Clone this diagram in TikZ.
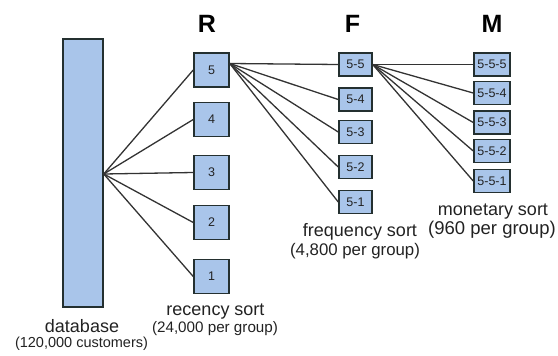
\documentclass[tikz,border=0pt]{standalone}
\usepackage{fontspec}
\setmainfont{Liberation Sans}
\definecolor{boxfill}{HTML}{A9C5EA}
\definecolor{boxline}{HTML}{243030}
\definecolor{wire}{HTML}{333333}
\definecolor{txt}{HTML}{222222}
\begin{document}
\begin{tikzpicture}[x=1pt,y=-1pt,
  box/.style={draw=boxline,fill=boxfill,line width=1.5pt,inner sep=0pt,text=txt,font=\fontsize{12.5}{12.5}\selectfont},
  rbox/.style={box,minimum width=35pt,minimum height=34pt},
  fbox/.style={box,minimum width=33pt,minimum height=23pt},
  mbox/.style={box,minimum width=36pt,minimum height=23pt},
  wire/.style={draw=wire,line width=1.3pt},
  head/.style={anchor=base,text=black,font=\fontsize{25}{25}\selectfont\bfseries},
  lbl/.style={anchor=base,text=txt,inner sep=0pt}]
\useasboundingbox (0,0) rectangle (558,356);
% database
\node[box,minimum width=40pt,minimum height=268pt] (db) at (83,173) {};
% R column
\node[rbox] (r5) at (211.5,70) {5};
\node[rbox] (r4) at (211.5,119.5) {4};
\node[rbox] (r3) at (211.5,172.5) {3};
\node[rbox] (r2) at (211.5,222.5) {2};
\node[rbox] (r1) at (211.5,276.5) {1};
% F column
\node[fbox] (f5) at (355.5,64.5) {5-5};
\node[fbox] (f4) at (355.5,99.5) {5-4};
\node[fbox] (f3) at (355.5,132) {5-3};
\node[fbox] (f2) at (355.5,167) {5-2};
\node[fbox] (f1) at (355.5,202) {5-1};
% M column
\node[mbox] (m5) at (492,64.5) {5-5-5};
\node[mbox] (m4) at (492,93) {5-5-4};
\node[mbox] (m3) at (492,122.5) {5-5-3};
\node[mbox] (m2) at (492,151) {5-5-2};
\node[mbox] (m1) at (492,181) {5-5-1};
% connectors
\coordinate (dbo) at ([yshift=-1pt]db.east);
\coordinate (r5o) at ([yshift=6.5pt]r5.east);
\coordinate (f5o) at (f5.east);
\foreach \i in {1,...,5} {
  \draw[wire] (dbo) -- (r\i.west);
  \draw[wire] (r5o) -- (f\i.west);
  \draw[wire] (f5o) -- (m\i.west);
}
% headers
\node[head] (hr) at (207,32) {R};
\node[head] (hf) at (352.5,32) {F};
\node[head] (hm) at (492,32) {M};
% labels
\node[lbl,font=\fontsize{18}{18}\selectfont] (ldb) at (82,332) {database};
\node[lbl,font=\fontsize{14.5}{14.5}\selectfont] (ldb2) at (81.5,347) {(120,000 customers)};
\node[lbl,font=\fontsize{18}{18}\selectfont] (lr) at (215.5,315) {recency sort};
\node[lbl,font=\fontsize{15.2}{15.2}\selectfont] (lr2) at (215,332) {(24,000 per group)};
\node[lbl,font=\fontsize{18}{18}\selectfont] (lf) at (360,236) {frequency sort};
\node[lbl,font=\fontsize{16.8}{16.8}\selectfont] (lf2) at (355,255) {(4,800 per group)};
\node[lbl,font=\fontsize{18}{18}\selectfont] (lm) at (493,215) {monetary sort};
\node[lbl,font=\fontsize{18.5}{18.5}\selectfont] (lm2) at (492,234) {(960 per group)};
\end{tikzpicture}
\end{document}
